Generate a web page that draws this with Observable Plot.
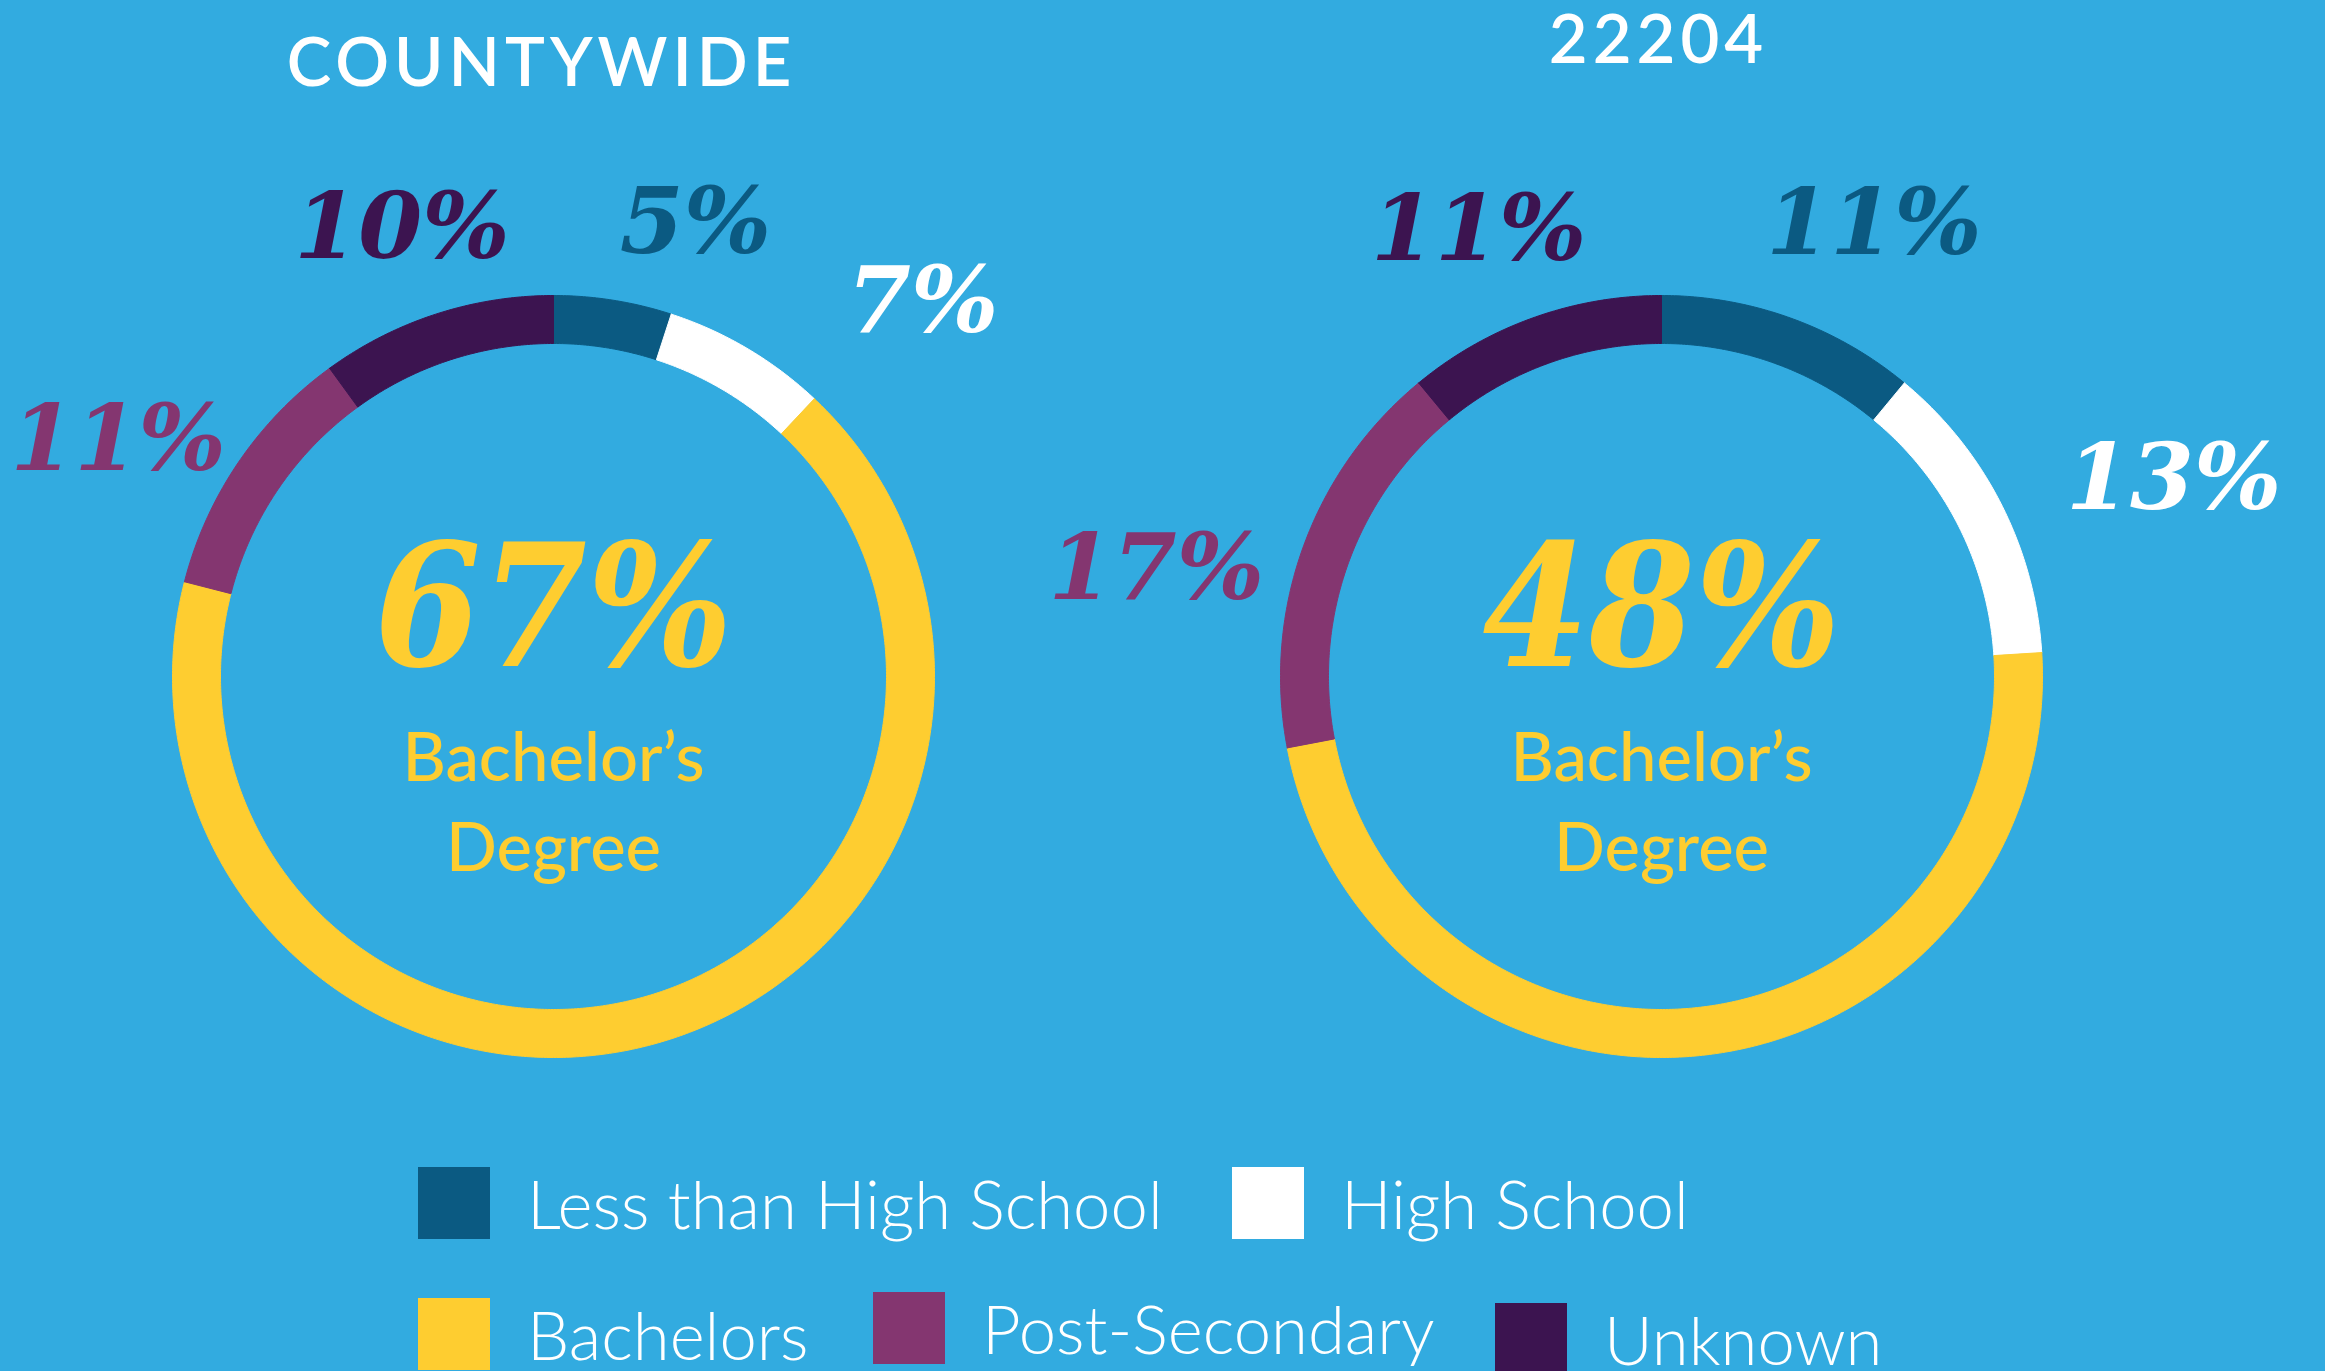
<!DOCTYPE html>
<html>
<head>
<meta charset="utf-8">
<script src="https://cdn.jsdelivr.net/npm/d3@7"></script>
<script src="https://cdn.jsdelivr.net/npm/@observablehq/plot@0.6"></script>
<style>
  html, body { margin: 0; padding: 0; background: #32abe0; }
  #page { width: 2325px; height: 1371px; overflow: hidden; position: relative; background: #32abe0; }
  #page svg { display: block; }
</style>
</head>
<body>
<div id="page"></div>
<script>
// ---------------- DATA ----------------
const regions = ["COUNTYWIDE", "22204"];
const categories = ["Less than High School", "High School", "Bachelors", "Post-Secondary", "Unknown"];
const countywideShares = [5, 7, 67, 11, 10];
const zip22204Shares = [11, 13, 48, 17, 11];
const centerCategory = "Bachelors";
const centerCaption = "Bachelor\u2019s\nDegree";
const colors = ["#0b5a82", "#ffffff", "#fecd30", "#843670", "#3c1450"];

// ---------------- LAYOUT (pixels / radius units) ----------------
const W = 2325, PLOT_H = 1150, PAGE_H = 1371;
const R_PX = 381;                 // outer radius of a ring in px
const INNER = 1 - 48 / R_PX;      // inner radius in ring units
const FACET_W = 1000, FACET_GAP = 108, MARGIN_L = 53;
const MARGIN_R = W - MARGIN_L - 2 * FACET_W - FACET_GAP;
const CENTER_Y = 676;             // ring centre from the top, px
const XR = FACET_W / 2 / R_PX;
// per-label [angle shift in degrees, distance from centre in ring units], category order
const labelPlacement = {
  "COUNTYWIDE": [[8.4, 1.245], [14, 1.38], null, [-5.7, 1.30], [-0.7, 1.24]],
  "22204":      [[5.4, 1.31], [6, 1.44], null, [-7.9, 1.355], [-2.5, 1.265]]
};
// title [x offset px from ring centre, baseline px from top]
const titlePlacement = { "COUNTYWIDE": [-12, 85], "22204": [-3, 62] };
const toUnitsY = (px) => (CENTER_Y - px) / R_PX;

const shares = { "COUNTYWIDE": countywideShares, "22204": zip22204Shares };

// ---------------- rows built from the data ----------------
const rows = [];
for (const region of regions) {
  const vals = shares[region];
  const total = d3.sum(vals);
  let acc = 0;
  vals.forEach((v, i) => {
    const a0 = acc / total * 2 * Math.PI;
    const a1 = (acc + v) / total * 2 * Math.PI;
    acc += v;
    const n = Math.max(2, Math.ceil((a1 - a0) / (Math.PI / 360)));
    const pts = [];
    for (let k = 0; k <= n; k++) pts.push([a0 + (a1 - a0) * k / n, 1]);
    for (let k = n; k >= 0; k--) pts.push([a0 + (a1 - a0) * k / n, INNER]);
    pts.push(pts[0]);
    for (const [a, r] of pts) {
      rows.push({kind: "slice", region, category: categories[i], x: r * Math.sin(a), y: r * Math.cos(a)});
    }
    const place = labelPlacement[region][i];
    if (categories[i] === centerCategory) {
      rows.push({kind: "big", region, category: categories[i], text: v + "%", x: 0, y: toUnitsY(665)});
      rows.push({kind: "caption", region, category: categories[i], text: centerCaption, x: 0, y: toUnitsY(870)});
    } else if (place) {
      const mid = (a0 + a1) / 2 + place[0] * Math.PI / 180;
      rows.push({kind: "label", region, category: categories[i], text: v + "%",
        x: place[1] * Math.sin(mid), y: place[1] * Math.cos(mid)});
    }
  });
  const tp = titlePlacement[region];
  rows.push({kind: "title", region, category: null, text: region, x: tp[0] / R_PX, y: toUnitsY(tp[1])});
}

const is = (k) => (d) => d.kind === k;

const plot = Plot.plot({
  width: W,
  height: PLOT_H,
  marginTop: 0, marginBottom: 0, marginLeft: MARGIN_L, marginRight: MARGIN_R,
  style: {background: "transparent", overflow: "visible"},
  facet: {data: rows, x: "region", marginTop: 0, marginRight: 0, marginBottom: 0, marginLeft: 0},
  fx: {domain: regions, paddingInner: FACET_GAP / (FACET_W + FACET_GAP), paddingOuter: 0, axis: null, label: null},
  x: {domain: [-XR, XR], axis: null},
  y: {domain: [toUnitsY(PLOT_H), toUnitsY(0)], axis: null},
  color: {domain: categories, range: colors},
  marks: [
    Plot.line(rows, {filter: is("slice"), x: "x", y: "y", z: "category", fill: "category", stroke: "category", strokeWidth: 1}),
    Plot.text(rows, {filter: is("label"), x: "x", y: "y", text: "text", fill: "category",
      fontFamily: "DejaVu Serif", fontWeight: "bold", fontStyle: "italic", fontSize: 92,
      textAnchor: "middle", lineAnchor: "middle"}),
    Plot.text(rows, {filter: is("big"), x: "x", y: "y", text: "text", fill: "category",
      fontFamily: "DejaVu Serif Condensed, DejaVu Serif", fontWeight: "bold", fontStyle: "italic", fontSize: 170,
      textAnchor: "middle", lineAnchor: "bottom"}),
    Plot.text(rows, {filter: is("caption"), x: "x", y: "y", text: "text", fill: "category",
      fontFamily: "Lato", fontWeight: 500, fontSize: 67, lineHeight: 90 / 67,
      textAnchor: "middle", lineAnchor: "bottom"}),
    Plot.text(rows, {filter: is("title"), x: "x", y: "y", text: "text", fill: "#ffffff",
      fontFamily: "Lato", fontWeight: 600, fontSize: 67,
      textAnchor: "middle", lineAnchor: "bottom"})
  ]
});

// letter-spacing for the two titles
plot.querySelectorAll("text").forEach((t) => {
  if (regions.includes(t.textContent)) t.style.letterSpacing = "5px";
});

const page = document.getElementById("page");
page.appendChild(plot);

// ---------------- legend ----------------
const legendPos = [[418, 17], [1232, 17], [418, 148], [873, 142], [1495, 153]];
const SW = 72;
const legend = d3.create("svg").attr("width", W).attr("height", PAGE_H - PLOT_H).style("display", "block");
categories.forEach((c, i) => {
  const [lx, ly] = legendPos[i];
  legend.append("rect").attr("x", lx).attr("y", ly).attr("width", SW).attr("height", SW).attr("fill", colors[i]);
  legend.append("text").attr("x", lx + 109).attr("y", ly + 62)
    .attr("fill", "#ffffff").attr("font-family", "Lato").attr("font-weight", 300).attr("font-size", 67)
    .text(c);
});
page.appendChild(legend.node());
</script>
</body>
</html>
